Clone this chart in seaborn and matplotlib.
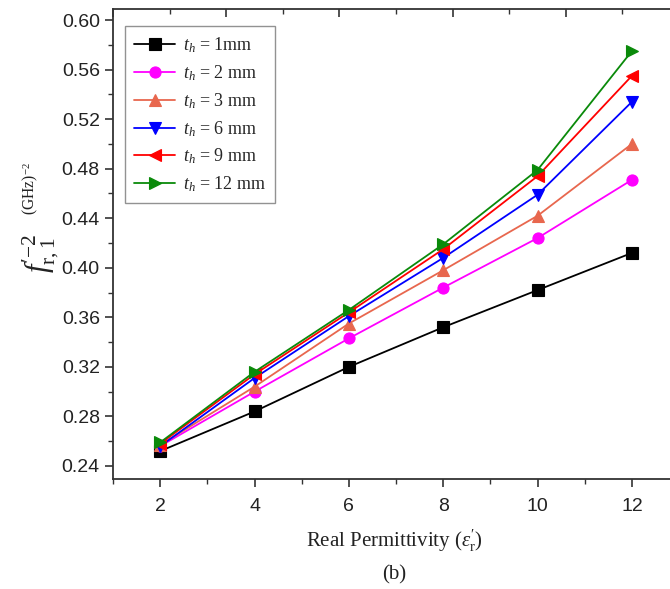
import matplotlib
matplotlib.use("Agg")
import matplotlib.pyplot as plt
from matplotlib.ticker import MultipleLocator
import seaborn as sns
import pandas as pd

# Real permittivity values and squared-inverse resonance frequency for each thickness
permittivity = [2, 4, 6, 8, 10, 12]
th_1mm = [0.252, 0.284, 0.320, 0.352, 0.382, 0.412]
th_2mm = [0.256, 0.300, 0.343, 0.384, 0.424, 0.471]
th_3mm = [0.257, 0.304, 0.355, 0.398, 0.442, 0.500]
th_6mm = [0.256, 0.311, 0.361, 0.408, 0.459, 0.534]
th_9mm = [0.258, 0.314, 0.364, 0.415, 0.474, 0.555]
th_12mm = [0.259, 0.316, 0.366, 0.419, 0.479, 0.575]

series_labels = [r"$t_h$ = 1mm", r"$t_h$ = 2 mm", r"$t_h$ = 3 mm",
                 r"$t_h$ = 6 mm", r"$t_h$ = 9 mm", r"$t_h$ = 12 mm"]
series_values = [th_1mm, th_2mm, th_3mm, th_6mm, th_9mm, th_12mm]
colors = ["#000000", "#FF00FF", "#E8674E", "#0000FF", "#FF0000", "#0A8A0A"]
markers = ["s", "o", "^", "v", "<", ">"]

sns.set_theme(style="white")
plt.rcParams["font.family"] = ["Liberation Sans", "DejaVu Sans"]
plt.rcParams["mathtext.fontset"] = "custom"
plt.rcParams["mathtext.rm"] = "Liberation Serif"
plt.rcParams["mathtext.it"] = "Liberation Serif:italic"
plt.rcParams["mathtext.bf"] = "Liberation Serif:bold"

fig = plt.figure(figsize=(6.7, 5.89), dpi=100)
ax = fig.add_axes([0.1687, 0.1868, 0.8448, 0.798])

for lab, vals, col, mk in zip(series_labels, series_values, colors, markers):
    df = pd.DataFrame({"perm": permittivity, "f": vals})
    sns.lineplot(data=df, x="perm", y="f", ax=ax, color=col, marker=mk,
                 markersize=8, markeredgecolor=col, markeredgewidth=0.8,
                 linewidth=1.3, label=lab)

ax.set_xlim(1, 13)
ax.set_ylim(0.2295, 0.609)
ax.xaxis.set_major_locator(MultipleLocator(2))
ax.xaxis.set_minor_locator(MultipleLocator(1))
ax.yaxis.set_major_locator(MultipleLocator(0.04))
ax.yaxis.set_minor_locator(MultipleLocator(0.02))
ax.yaxis.set_major_formatter(matplotlib.ticker.FormatStrFormatter("%.2f"))

for side in ["left", "bottom", "top", "right"]:
    ax.spines[side].set_color("#333333")
    ax.spines[side].set_linewidth(1.3)

ax.tick_params(axis="both", which="major", direction="out", length=6, width=1.2,
               color="#333333", labelsize=14, labelcolor="#222222",
               left=True, bottom=True, top=False, right=False)
ax.tick_params(axis="both", which="minor", direction="out", length=3.5, width=1.0,
               color="#333333", left=True, bottom=True, top=False, right=False)
ax.tick_params(axis="x", which="major", pad=8)

# Inward ticks along the top border
top = ax.twiny()
top.set_xlim(0, 5)
top.xaxis.set_major_locator(MultipleLocator(1))
top.xaxis.set_minor_locator(MultipleLocator(0.5))
top.tick_params(axis="x", which="major", direction="in", length=6, width=1.2,
                color="#333333", labeltop=False)
top.tick_params(axis="x", which="minor", direction="in", length=3.5, width=1.0,
                color="#333333", labeltop=False)
for side in top.spines:
    top.spines[side].set_visible(False)
top.set_xlabel("")

ax.set_xlabel("")
ax.set_ylabel("")
fig.text(0.589, 0.081, r"Real Permittivity ($\varepsilon_{\mathrm{r}}'$)", ha="center",
         va="center", fontsize=15, family="Liberation Serif", color="#222222")
fig.text(0.589, 0.024, "(b)", ha="center", va="center", fontsize=15,
         family="Liberation Serif", color="#222222")
fig.text(0.06, 0.57, r"$f^{\prime{-}2}_{\mathrm{r},1}$", rotation=90, ha="center",
         va="center", fontsize=22, color="#222222")
fig.text(0.052, 0.635, r"$^{(\mathrm{GHz})^{{-}2}}$", rotation=90, ha="center",
         va="bottom", fontsize=16, color="#222222")

leg = ax.legend(loc="upper left", bbox_to_anchor=(0.005, 0.982), frameon=True,
                fancybox=False, edgecolor="#777777",
                handlelength=2.3, handletextpad=0.4, labelspacing=0.45,
                borderpad=0.5, prop={"family": "Liberation Serif", "size": 13})
leg.get_frame().set_linewidth(1.0)

fig.savefig("out.png", dpi=100)
